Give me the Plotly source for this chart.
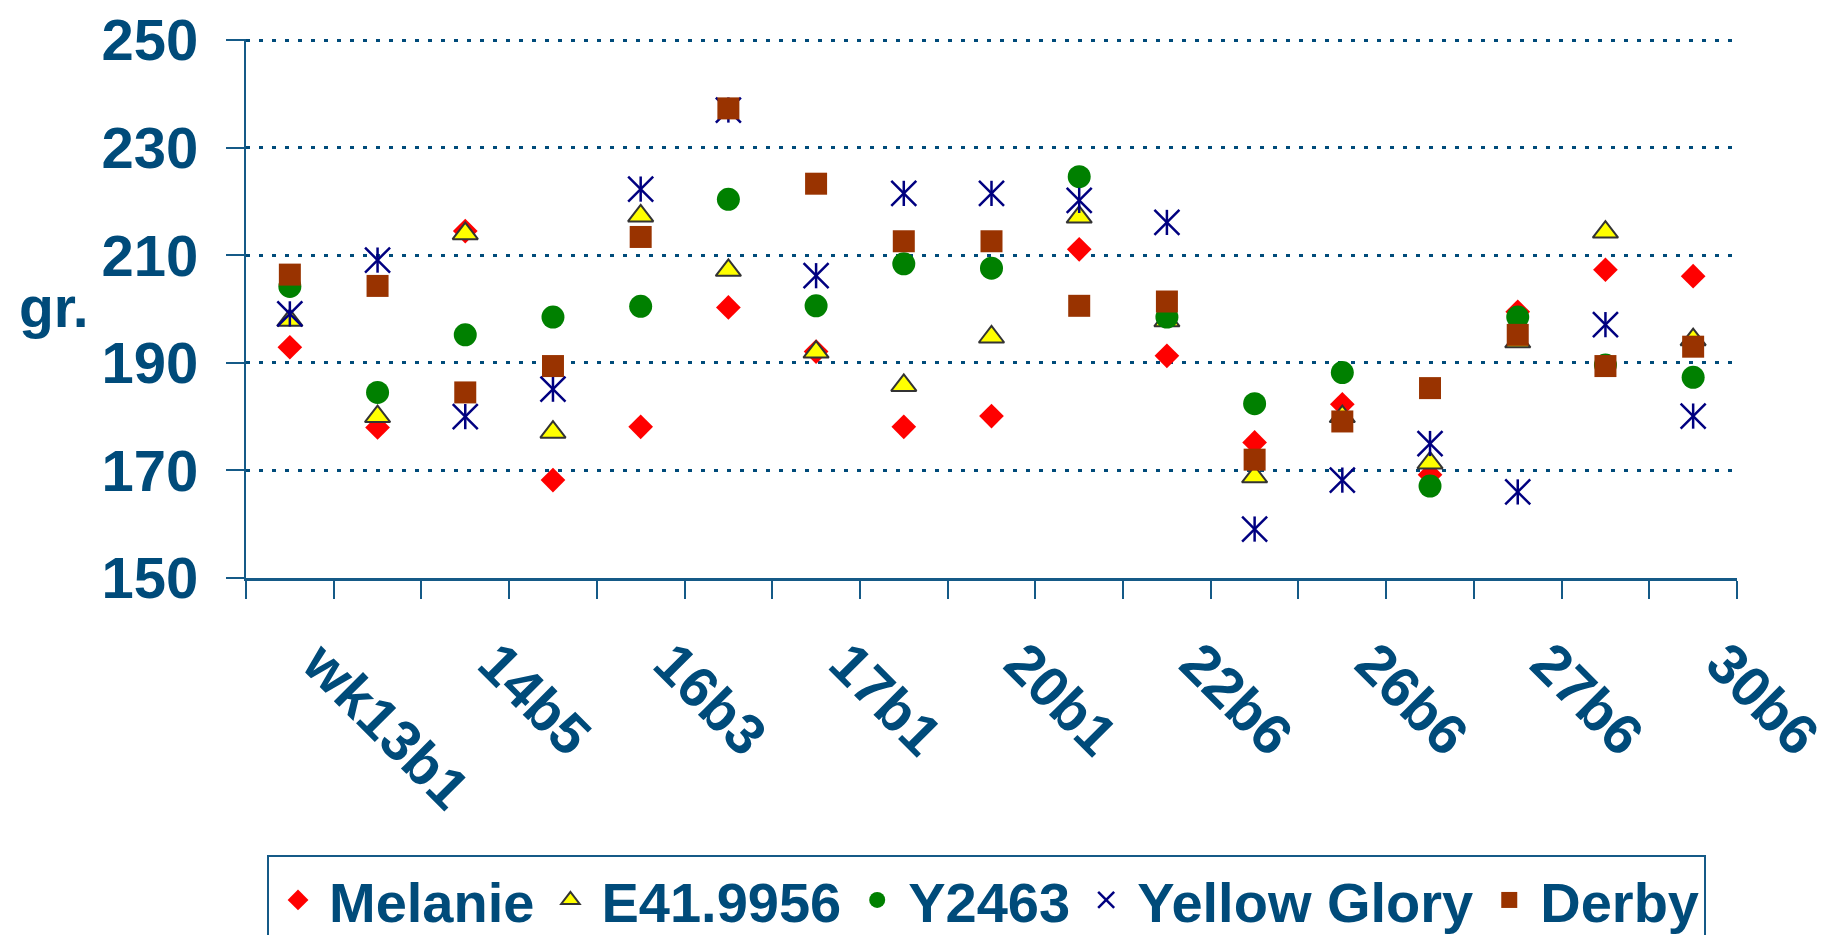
import plotly.graph_objects as go

# Category tick labels as shown (every other category is unlabeled in the reference)
tick_labels = ["wk13b1", "", "14b5", "", "16b3", "", "17b1", "", "20b1", "",
               "22b6", "", "26b6", "", "27b6", "", "30b6"]

melanie = [192.9, 178.0, 214.5, 168.2, 178.1, 200.3, 192.1, 178.1, 180.1,
           211.1, 191.3, 175.2, 182.3, 169.2, 199.5, 207.3, 206.1]
e41_9956 = [197.9, 180.0, 214.0, 177.1, 217.3, 207.2, 192.0, 185.8, 194.8,
            217.1, 197.8, 168.8, 180.0, 171.4, 193.9, 214.3, 194.3]
y2463 = [204.2, 184.5, 195.2, 198.5, 200.5, 220.4, 200.6, 208.4, 207.6,
         224.6, 198.5, 182.4, 188.2, 167.1, 198.5, 189.6, 187.3]
yellow_glory = [199.1, 209.1, 180.0, 185.1, 222.3, 237.0, 206.2, 221.5, 221.5,
                220.2, 216.1, 159.1, 168.2, 175.0, 166.0, 197.1, 180.1]
derby = [206.4, 204.3, 184.5, 189.4, 213.4, 237.3, 223.3, 212.6, 212.6,
         200.6, 201.4, 172.0, 179.1, 185.3, 195.2, 189.4, 193.0]

y_ticks = [150, 170, 190, 210, 230, 250]

x_pos = list(range(len(tick_labels)))

TEXT = "#004B7A"
LINE = "#155A87"
FONT = "Liberation Sans, Arial, sans-serif"

fig = go.Figure()
fig.add_trace(go.Scatter(x=x_pos, y=melanie, mode="markers", name="Melanie",
                         marker=dict(symbol="diamond", size=19, color="#FF0000",
                                     line=dict(width=0))))
fig.add_trace(go.Scatter(x=x_pos, y=e41_9956, mode="markers", name="E41.9956",
                         marker=dict(symbol="triangle-up", size=22, color="#FFFF00",
                                     line=dict(width=2, color="#333333"))))
fig.add_trace(go.Scatter(x=x_pos, y=y2463, mode="markers", name="Y2463",
                         marker=dict(symbol="circle", size=23, color="#008000",
                                     line=dict(width=0))))
fig.add_trace(go.Scatter(x=x_pos, y=yellow_glory, mode="markers", name="Yellow Glory",
                         legendgroup="yg",
                         marker=dict(symbol="x-thin-open", size=25, color="#000080",
                                     line=dict(width=2.5, color="#000080"))))
fig.add_trace(go.Scatter(x=x_pos, y=yellow_glory, mode="markers", name="Yellow Glory",
                         legendgroup="yg", showlegend=False, hoverinfo="skip",
                         marker=dict(symbol="line-ns-open", size=18, color="#000080",
                                     line=dict(width=2.5, color="#000080"))))
fig.add_trace(go.Scatter(x=x_pos, y=derby, mode="markers", name="Derby",
                         marker=dict(symbol="square", size=22, color="#993300",
                                     line=dict(width=0))))

fig.update_layout(
    width=1830, height=935,
    margin=dict(l=246, r=93, t=39, b=357, pad=0, autoexpand=False),
    paper_bgcolor="white", plot_bgcolor="white",
    font=dict(family=FONT, color=TEXT, size=57),
    showlegend=True,
    legend=dict(orientation="h", x=0.0141, xanchor="left", y=-0.514, yanchor="top",
                bordercolor=LINE, borderwidth=2, bgcolor="white",
                font=dict(family=FONT, size=56, color=TEXT, weight="bold"),
                itemwidth=52),
    xaxis=dict(range=[-0.5, len(tick_labels) - 0.5], tickmode="array",
               tickvals=x_pos, ticktext=tick_labels, tickangle=45, ticks="",
               showline=True, linecolor=LINE, linewidth=3, showgrid=False,
               zeroline=False, automargin=False, ticklabeloverflow="allow",
               ticklabelshift=30, ticklabelstandoff=26,
               tickfont=dict(family=FONT, size=57, color=TEXT, weight="bold"),
               minor=dict(tickmode="linear", tick0=-0.5, dtick=1, ticks="outside",
                          ticklen=18, tickwidth=2, tickcolor=LINE, showgrid=False)),
    yaxis=dict(range=[150, 250.2], tickmode="array", tickvals=y_ticks,
               ticks="outside", ticklen=18, tickwidth=2, tickcolor=LINE,
               showline=True, linecolor=LINE, linewidth=2,
               showgrid=True, gridcolor=TEXT, gridwidth=3, griddash="4px,9px",
               zeroline=False, automargin=False, ticklabelstandoff=16,
               tickfont=dict(family=FONT, size=58, color=TEXT, weight="bold")),
    annotations=[dict(text="gr.", xref="paper", yref="paper", x=-0.1536, y=0.502,
                      xanchor="left", yanchor="middle", showarrow=False,
                      font=dict(family=FONT, size=57, color=TEXT, weight="bold"))],
)

fig.write_html("out.html",
               config={"displayModeBar": False},
               post_script="document.body.style.margin='0';"
                           "document.body.style.overflow='hidden';")
